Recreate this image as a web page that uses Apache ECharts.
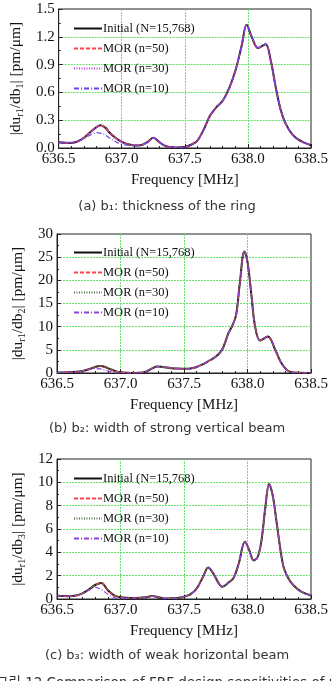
<!DOCTYPE html>
<html>
<head>
<meta charset="utf-8">
<script src="https://cdn.jsdelivr.net/npm/echarts@6/dist/echarts.min.js"></script>
<style>
  html, body { margin: 0; padding: 0; background: #fff; }
  #main { width: 334px; height: 681px; }
</style>
</head>
<body>
<div id="main"></div>
<script>
// (a) b1
const freq1 = [636.5, 636.55, 636.6, 636.65, 636.7, 636.75, 636.8, 636.83, 636.87, 636.9, 636.95, 637.0, 637.05, 637.1, 637.15, 637.2, 637.25, 637.3, 637.35, 637.4, 637.45, 637.5, 637.55, 637.6, 637.65, 637.7, 637.75, 637.8, 637.85, 637.9, 637.95, 637.99, 638.03, 638.08, 638.14, 638.18, 638.22, 638.26, 638.3, 638.35, 638.4, 638.45, 638.5]
const init1 = [0.062, 0.056, 0.055, 0.07, 0.11, 0.17, 0.225, 0.245, 0.22, 0.17, 0.11, 0.065, 0.04, 0.028, 0.03, 0.06, 0.11, 0.06, 0.02, 0.008, 0.005, 0.01, 0.035, 0.08, 0.2, 0.35, 0.44, 0.51, 0.64, 0.83, 1.1, 1.33, 1.2, 1.08, 1.12, 0.95, 0.66, 0.41, 0.26, 0.15, 0.09, 0.055, 0.03]
const mor10_1 = [0.062, 0.058, 0.06, 0.075, 0.1, 0.14, 0.165, 0.16, 0.14, 0.11, 0.07, 0.04, 0.03, 0.028, 0.03, 0.06, 0.11, 0.06, 0.02, 0.008, 0.005, 0.01, 0.035, 0.08, 0.2, 0.35, 0.44, 0.51, 0.64, 0.83, 1.1, 1.33, 1.2, 1.08, 1.12, 0.95, 0.66, 0.41, 0.26, 0.15, 0.09, 0.055, 0.03]

// (b) b2
const freq2 = [636.5, 636.6, 636.65, 636.7, 636.75, 636.8, 636.84, 636.88, 636.92, 636.96, 637.0, 637.05, 637.1, 637.15, 637.2, 637.25, 637.29, 637.33, 637.4, 637.45, 637.5, 637.55, 637.6, 637.65, 637.7, 637.75, 637.8, 637.85, 637.88, 637.91, 637.94, 637.975, 638.0, 638.03, 638.06, 638.1, 638.16, 638.22, 638.27, 638.33, 638.4, 638.5]
const init2 = [0.1, 0.15, 0.25, 0.45, 0.8, 1.3, 1.5, 1.3, 0.8, 0.4, 0.15, 0.05, 0.02, 0.05, 0.3, 1.0, 1.4, 1.3, 1.05, 0.95, 0.9, 0.95, 1.3, 1.9, 2.7, 3.5, 5.0, 8.6, 10.2, 12.5, 19.5, 26.2, 24, 17, 10, 7.0, 7.9, 4.9, 2.0, 0.3, 0.05, 0.02]
const mor10_2 = [0.1, 0.15, 0.25, 0.4, 0.7, 0.95, 0.9, 0.6, 0.3, 0.12, 0.05, 0.03, 0.02, 0.05, 0.3, 1.0, 1.4, 1.3, 1.05, 0.95, 0.9, 0.95, 1.3, 1.9, 2.7, 3.5, 5.0, 8.6, 10.2, 12.5, 19.5, 26.2, 24, 17, 10, 7.0, 7.9, 4.9, 2.0, 0.3, 0.05, 0.02]

// (c) b3
const freq3 = [636.5, 636.55, 636.6, 636.65, 636.7, 636.75, 636.8, 636.85, 636.9, 636.95, 637.0, 637.05, 637.1, 637.15, 637.2, 637.25, 637.3, 637.35, 637.4, 637.45, 637.5, 637.55, 637.6, 637.65, 637.69, 637.73, 637.77, 637.8, 637.85, 637.89, 637.93, 637.98, 638.01, 638.05, 638.08, 638.11, 638.14, 638.17, 638.2, 638.23, 638.28, 638.32, 638.36, 638.42, 638.5]
const init3 = [0.3, 0.25, 0.24, 0.3, 0.48, 0.8, 1.2, 1.38, 0.75, 0.32, 0.15, 0.1, 0.08, 0.1, 0.15, 0.25, 0.15, 0.05, 0.05, 0.08, 0.2, 0.4, 0.9, 1.9, 2.7, 2.2, 1.4, 1.05, 1.4, 1.8, 3.0, 4.9, 4.3, 3.3, 3.6, 5.0, 7.8, 9.85, 8.8, 6.5, 2.9, 1.8, 1.2, 0.65, 0.3]
const mor10_3 = [0.3, 0.25, 0.24, 0.3, 0.48, 0.75, 1.0, 0.8, 0.4, 0.12, 0.05, 0.06, 0.08, 0.1, 0.15, 0.25, 0.15, 0.05, 0.05, 0.08, 0.2, 0.4, 0.9, 1.9, 2.7, 2.2, 1.4, 1.05, 1.4, 1.8, 3.0, 4.9, 4.3, 3.3, 3.6, 5.0, 7.8, 9.85, 8.8, 6.5, 2.9, 1.8, 1.2, 0.65, 0.3]

const seriesNames = ['Initial (N=15,768)', 'MOR (n=50)', 'MOR (n=30)', 'MOR (n=10)']
const yMax = [1.5, 30, 12]
const yStep = [0.3, 5, 2]
const yIdx = ['1', '2', '3']
const captions = ['(a) b₁: thickness of the ring', '(b) b₂: width of strong vertical beam', '(c) b₃: width of weak horizontal beam']

const serif = 'Liberation Serif'
const grids = [
  { left: 57, top: 9, width: 254, height: 139 },
  { left: 57, top: 234, width: 254, height: 139 },
  { left: 57, top: 459, width: 254, height: 140 }
]
const legendTop = [17, 241, 467]
const captionY = [208, 430, 657]
const dotColor = ['#c040e0', '#50703c', '#50703c']
const dashDotColor = ['#7040f0', '#9040e0', '#9040e0']

const pairs = (xs, ys) => xs.map((x, i) => [x, ys[i]])
const chartData = [
  [freq1, init1, mor10_1],
  [freq2, init2, mor10_2],
  [freq3, init3, mor10_3]
]

const chart = echarts.init(document.getElementById('main'))

const xAxis = grids.map((g, i) => ({
  gridIndex: i,
  type: 'value',
  min: 636.5,
  max: 638.5,
  interval: 0.5,
  name: 'Frequency [MHz]',
  nameLocation: 'middle',
  nameGap: 25,
  nameTextStyle: { fontFamily: serif, fontSize: 15, color: '#111' },
  axisLine: { lineStyle: { color: '#222', width: 1 } },
  axisTick: { inside: true, length: 4, lineStyle: { color: '#222' } },
  minorTick: { show: true, splitNumber: 5, length: 2, lineStyle: { color: '#222' } },
  axisLabel: { fontFamily: serif, fontSize: 15, color: '#111', margin: 4, formatter: v => v.toFixed(1) },
  splitLine: { show: true, showMinLine: false, showMaxLine: false, lineStyle: { color: '#66e066', type: [2, 1], width: 1 } }
}))

const yAxis = grids.map((g, i) => ({
  gridIndex: i,
  type: 'value',
  min: 0,
  max: yMax[i],
  interval: yStep[i],
  name: '|du{s|r1}/db{s|' + yIdx[i] + '}| [pm/μm]',
  nameLocation: 'middle',
  nameRotate: 90,
  nameGap: 28,
  nameTextStyle: {
    fontFamily: serif, fontSize: 15.5, color: '#111',
    rich: { s: { fontFamily: serif, fontSize: 10, color: '#111', padding: [8, 0, 0, 0] } }
  },
  axisLine: { lineStyle: { color: '#222', width: 1 } },
  axisTick: { inside: true, length: 4, lineStyle: { color: '#222' } },
  minorTick: { show: true, splitNumber: 2, length: 2, lineStyle: { color: '#222' } },
  axisLabel: {
    fontFamily: serif, fontSize: 15, color: '#111', margin: 4,
    formatter: v => (i === 0 ? v.toFixed(1) : String(v))
  },
  splitLine: { show: true, showMinLine: false, showMaxLine: false, lineStyle: { color: '#66e066', type: [2, 1], width: 1 } }
}))

const series = []
chartData.forEach(([xs, init, mor10], i) => {
  const pad = ' '.repeat(i)
  const common = { type: 'line', xAxisIndex: i, yAxisIndex: i, symbol: 'none', smooth: 0.35, animation: false }
  series.push({ ...common, name: seriesNames[0] + pad, data: pairs(xs, init), lineStyle: { color: '#111', width: 2 }, itemStyle: { color: '#111' } })
  series.push({ ...common, name: seriesNames[1] + pad, data: pairs(xs, init), lineStyle: { color: '#ff4050', width: 1.2, type: [4, 2] }, itemStyle: { color: '#ff4050' } })
  series.push({ ...common, name: seriesNames[2] + pad, data: pairs(xs, init), lineStyle: { color: dotColor[i], width: 1.2, type: [1, 1.5] }, itemStyle: { color: dotColor[i] } })
  series.push({ ...common, name: seriesNames[3] + pad, data: pairs(xs, mor10), lineStyle: { color: dashDotColor[i], width: 1.2, type: [5, 2, 1, 2] }, itemStyle: { color: dashDotColor[i] } })
})

const legend = grids.map((g, i) => ({
  orient: 'vertical',
  left: 68,
  top: legendTop[i],
  itemWidth: 28,
  itemHeight: 8,
  itemGap: 7,
  selectedMode: false,
  data: seriesNames.map(n => n + ' '.repeat(i)),
  formatter: n => n.trim(),
  itemStyle: { opacity: 0 },
  textStyle: { fontFamily: serif, fontSize: 12.5, color: '#111', padding: [0, 0, 0, -4] }
}))

const graphic = captions.map((t, i) => ({
  type: 'text',
  left: 'center',
  top: captionY[i] - 8,
  style: { text: t, font: '13px "DejaVu Sans"', fill: '#333' }
}))
graphic.push({
  type: 'text',
  left: -4,
  top: 677,
  style: { text: '그림 12 Comparison of FRF design sensitivities of u', font: '13.5px "DejaVu Sans", "Noto Sans CJK KR"', fill: '#333' }
})

const option = {
  animation: false,
  backgroundColor: '#fff',
  grid: grids.map(g => ({ ...g, show: true, borderColor: '#222', borderWidth: 1, backgroundColor: 'transparent' })),
  xAxis,
  yAxis,
  legend,
  graphic,
  series
}
chart.setOption(option)
</script>
</body>
</html>
